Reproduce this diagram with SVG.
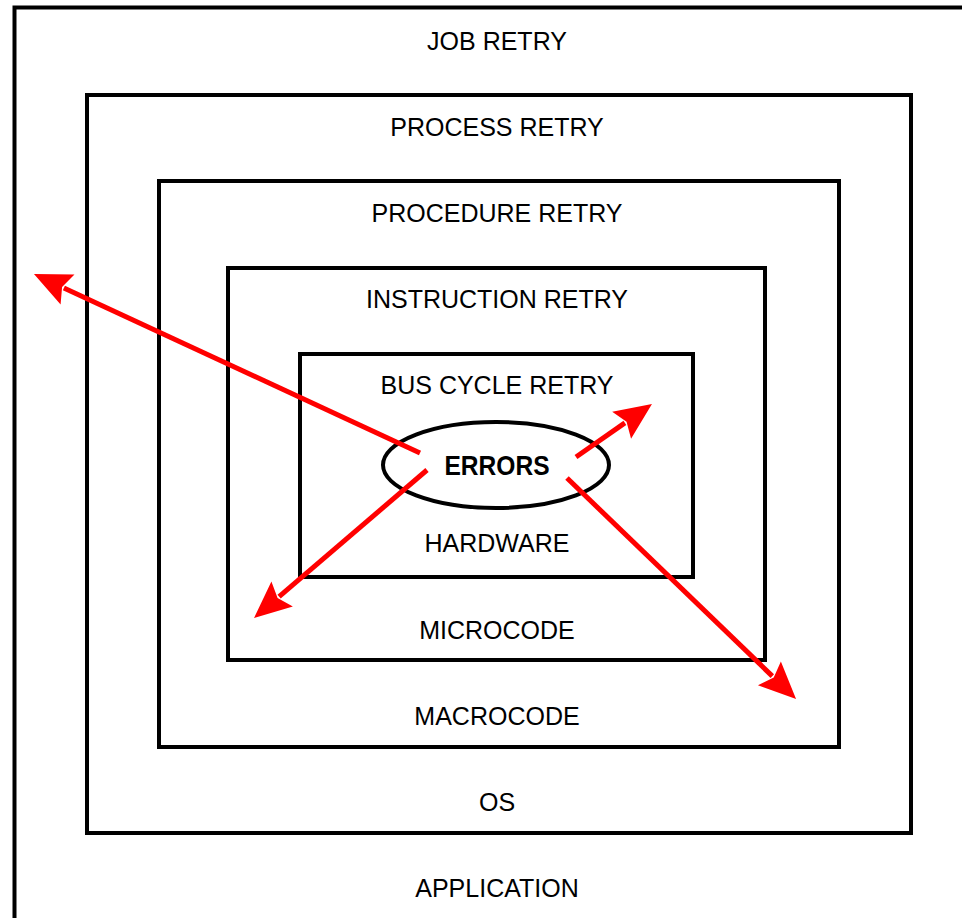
<svg xmlns="http://www.w3.org/2000/svg" width="962" height="918" viewBox="0 0 962 918">
<style>
.box{fill:none;stroke:#000;stroke-width:4}
.lbl{font-family:"Liberation Sans",Arial,sans-serif;font-size:25px;fill:#000;text-anchor:middle}
.err{font-family:"Liberation Sans",Arial,sans-serif;font-size:28px;font-weight:bold;fill:#000;text-anchor:middle}
.arr{stroke:#ff0000;stroke-width:5;fill:none;marker-end:url(#ah)}
</style>
<defs>
<marker id="ah" markerUnits="userSpaceOnUse" viewBox="-5 -17 40 34" markerWidth="40" markerHeight="34" refX="0" refY="0" orient="auto">
<path d="M33,0 L-4,-16.5 L2,0 L-4,16.5 Z" fill="#ff0000"/>
</marker>
</defs>
<rect width="962" height="918" fill="#fff"/>
<g id="application">
<path class="box" d="M14.5,918 V7.5 H962"/>
<text class="lbl" x="497" y="50">JOB RETRY</text>
<text class="lbl" x="497" y="897">APPLICATION</text>
</g>
<g id="os">
<rect class="box" x="87" y="95" width="824" height="738"/>
<text class="lbl" x="497" y="136">PROCESS RETRY</text>
<text class="lbl" x="497" y="811">OS</text>
</g>
<g id="macrocode">
<rect class="box" x="159" y="181" width="680" height="566"/>
<text class="lbl" x="497" y="222">PROCEDURE RETRY</text>
<text class="lbl" x="497" y="725">MACROCODE</text>
</g>
<g id="microcode">
<rect class="box" x="228" y="268" width="537" height="392"/>
<text class="lbl" x="497" y="308">INSTRUCTION RETRY</text>
<text class="lbl" x="497" y="639">MICROCODE</text>
</g>
<g id="hardware">
<rect class="box" x="300" y="354" width="393" height="223"/>
<text class="lbl" x="497" y="394">BUS CYCLE RETRY</text>
<text class="lbl" x="497" y="552">HARDWARE</text>
</g>
<g id="errors">
<ellipse cx="496" cy="465" rx="113" ry="43" fill="none" stroke="#000" stroke-width="4"/>
<text class="err" x="497" y="475" textLength="105" lengthAdjust="spacingAndGlyphs">ERRORS</text>
</g>
<g id="connectors">
<line class="arr" x1="420" y1="453" x2="63.9" y2="287.9"/>
<line class="arr" x1="576" y1="457" x2="624.9" y2="422.9"/>
<line class="arr" x1="427" y1="470" x2="279.1" y2="596.6"/>
<line class="arr" x1="567" y1="478" x2="772.3" y2="676.1"/>
</g>
</svg>
